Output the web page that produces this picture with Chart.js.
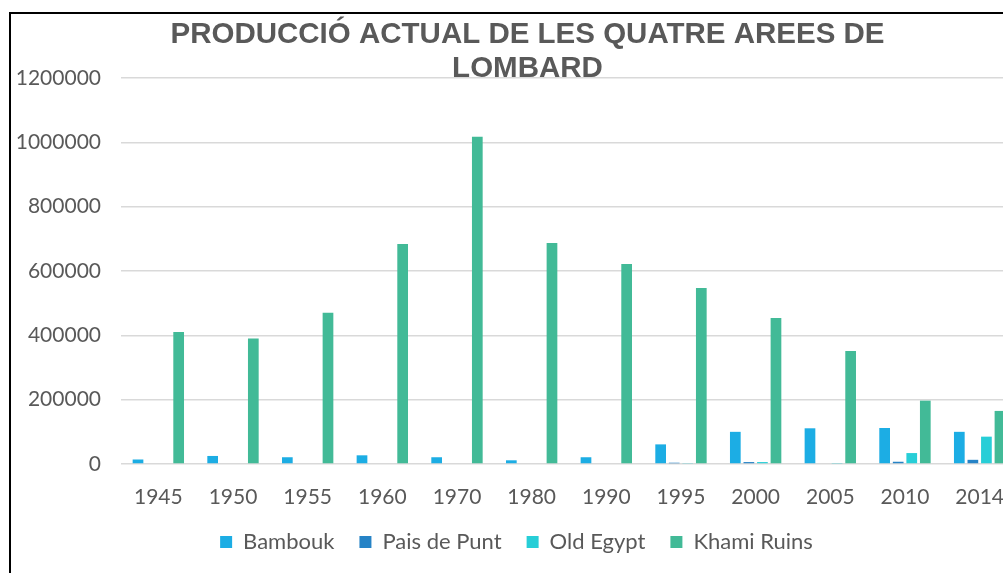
<!DOCTYPE html>
<html>
<head>
<meta charset="utf-8">
<script src="https://cdn.jsdelivr.net/npm/chart.js@4.4.1/dist/chart.umd.min.js"></script>
<style>
  body { margin: 0; background: #fff; overflow: hidden; }
  .frame {
    position: absolute;
    left: 9px;
    top: 12px;
    width: 1100px;
    height: 620px;
    border: 2px solid #000;
  }
  #chart { display: block; }
</style>
</head>
<body>
<div class="frame">
  <canvas id="chart" width="1006" height="549"></canvas>
</div>
<script>
"use strict";

//------------------ data ---------------------------------------------------
let years = ["1945", "1950", "1955", "1960", "1970", "1980", "1990", "1995", "2000", "2005", "2010", "2014"];
let bambouk = [14000, 25000, 21000, 27000, 21000, 11500, 21000, 61000, 100000, 111000, 112000, 100000];
let paisDePunt = [0, 0, 0, 0, 0, 0, 0, 4000, 6000, 0, 7000, 13000];
let oldEgypt = [0, 0, 0, 0, 0, 0, 0, 3000, 6000, 1500, 34000, 85000];
let khamiRuins = [410000, 390000, 470000, 684000, 1017000, 687000, 622000, 547000, 454000, 351000, 197000, 165000];
let yTicks = [0, 200000, 400000, 600000, 800000, 1000000, 1200000];

let titleLines = ["PRODUCCIÓ ACTUAL DE LES QUATRE AREES DE", "LOMBARD"];
let textGray = "#595959";
let gridGray = "#d9d9d9";

//------------------ one dataset per area -----------------------------------
function makeSeries(label, values, color) {
  return {
    label: label,
    data: values,
    backgroundColor: color,
    borderWidth: 0,
    categoryPercentage: 0.726,
    barPercentage: 0.79
  };
}

// the excel title sits a bit right of the legend, nudge it over
let titleNudge = {
  id: "titleNudge",
  afterLayout(chart) {
    let t = chart.titleBlock;
    if (t) {
      t.left += 11;
      t.right += 11;
    }
  }
};

let ctx = document.getElementById("chart").getContext("2d");

let chart = new Chart(ctx, {
  type: "bar",
  data: {
    labels: years,
    datasets: [
      makeSeries("Bambouk", bambouk, "#1CADE4"),
      makeSeries("Pais de Punt", paisDePunt, "#2683C6"),
      makeSeries("Old Egypt", oldEgypt, "#27CED7"),
      makeSeries("Khami Ruins", khamiRuins, "#42BA97")
    ]
  },
  plugins: [titleNudge],
  options: {
    responsive: false,
    animation: false,
    layout: {
      padding: { left: 5, right: 0, top: 0, bottom: 0 }
    },
    plugins: {
      title: {
        display: true,
        text: titleLines,
        color: textGray,
        font: { family: "'Liberation Sans', Arial, sans-serif", size: 29.5, weight: "bold", lineHeight: "34px" },
        padding: { top: 4, bottom: -8 }
      },
      legend: {
        position: "bottom",
        labels: {
          color: textGray,
          boxWidth: 12,
          boxHeight: 12,
          padding: 25,
          font: { family: "Lato, 'Open Sans', sans-serif", size: 22 }
        }
      },
      tooltip: { enabled: false }
    },
    scales: {
      x: {
        grid: { display: false },
        border: { display: false },
        ticks: {
          color: textGray,
          padding: 13,
          maxRotation: 0,
          autoSkip: false,
          font: { family: "Lato, 'Open Sans', sans-serif", size: 21 }
        },
        afterFit: function (scale) {
          scale.height = 42;
        }
      },
      y: {
        min: 0,
        max: 1200000,
        border: { display: false },
        grid: {
          color: gridGray,
          lineWidth: 1.5,
          drawTicks: false
        },
        ticks: {
          color: textGray,
          padding: 20,
          font: { family: "Lato, 'Open Sans', sans-serif", size: 21 },
          callback: function (value) {
            return String(value);
          }
        },
        afterBuildTicks: function (scale) {
          scale.ticks = yTicks.map(v => ({ value: v }));
        },
        afterFit: function (scale) {
          scale.width = 105;
        }
      }
    }
  }
});
</script>
</body>
</html>
